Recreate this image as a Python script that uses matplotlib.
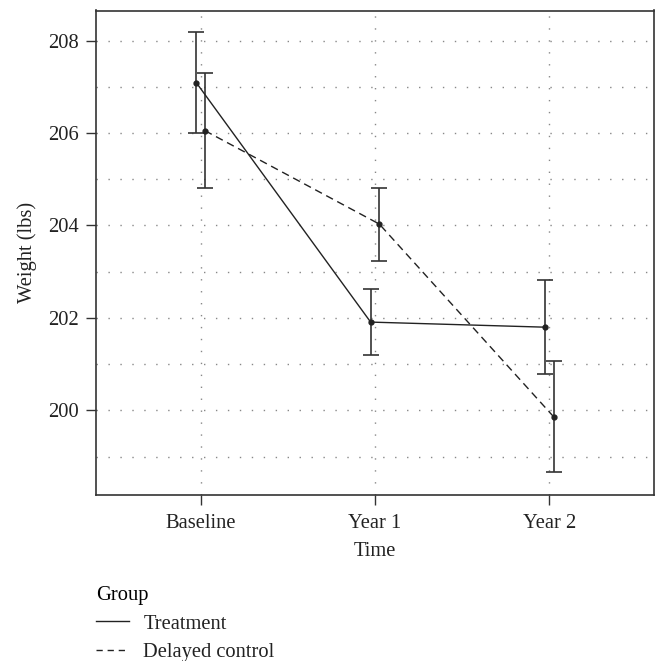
import numpy as np
import matplotlib
matplotlib.use("Agg")
import matplotlib.pyplot as plt
from matplotlib.lines import Line2D

plt.rcParams["font.family"] = ["Liberation Serif", "DejaVu Serif"]

times = ["Baseline", "Year 1", "Year 2"]
groups = ["Treatment", "Delayed control"]

treatment_mean = [207.09, 201.91, 201.80]
treatment_err = [1.09, 0.72, 1.02]
control_mean = [206.05, 204.03, 199.86]
control_err = [1.25, 0.79, 1.20]

y_ticks = [200, 202, 204, 206, 208]

DARK = "#222222"
DODGE = 0.025
FS = 14.8
DASH = (0, (5.5, 3.5))

fig = plt.figure(figsize=(6.55, 6.61), dpi=100)
ax = fig.add_axes([96 / 655, 1 - 495 / 661, 558 / 655, 484.5 / 661])

x = np.arange(len(times))
series = [
    (treatment_mean, treatment_err, "-", -DODGE),
    (control_mean, control_err, DASH, DODGE),
]
for means, errs, ls, off in series:
    xs = x + off
    ax.errorbar(xs, means, yerr=errs, fmt="none", ecolor="#333333",
                elinewidth=1.2, capsize=5.5, capthick=1.2, zorder=3)
    ax.plot(xs, means, color=DARK, linestyle=ls, linewidth=1.0,
            marker="o", markersize=3.5, zorder=4)

ax.set_xlim(-0.6, 2.6)
ax.set_ylim(198.17, 208.65)
ax.set_xticks(x)
ax.set_xticklabels(times)
ax.set_yticks(y_ticks)
ax.set_yticks(np.arange(199, 209, 2), minor=True)
ax.tick_params(axis="y", which="minor", length=0)
ax.tick_params(which="major", direction="out", length=7, width=1.0,
               colors="#333333", labelcolor="#222222", labelsize=FS)
ax.tick_params(axis="x", pad=7)
ax.tick_params(axis="y", pad=5)

dot = (0, (1, 7.6))
ax.grid(True, which="both", axis="y", color="#888888", linestyle=dot, linewidth=1.0)
ax.grid(True, which="major", axis="x", color="#888888", linestyle=dot, linewidth=1.0)
ax.set_axisbelow(True)

for s in ax.spines.values():
    s.set_color("#333333")
    s.set_linewidth(1.2)

ax.set_xlabel("Time", fontsize=FS, color="#222222", labelpad=6)
ax.set_ylabel("Weight (lbs)", fontsize=FS, color="#222222", labelpad=8)

handles = [Line2D([], [], color=DARK, linestyle="-", linewidth=1.0),
           Line2D([], [], color=DARK, linestyle=(0, (4.5, 3.5)), linewidth=1.0)]
leg = fig.legend(handles, groups, title="Group", loc="upper left",
                 bbox_to_anchor=(96 / 655, 1 - 586 / 661), frameon=False,
                 fontsize=FS, title_fontsize=FS, alignment="left",
                 handlelength=1.6, handletextpad=0.7, labelspacing=0.45,
                 borderpad=0, borderaxespad=0)
for t in leg.get_texts():
    t.set_color("#222222")

fig.savefig("out.png", dpi=100)
